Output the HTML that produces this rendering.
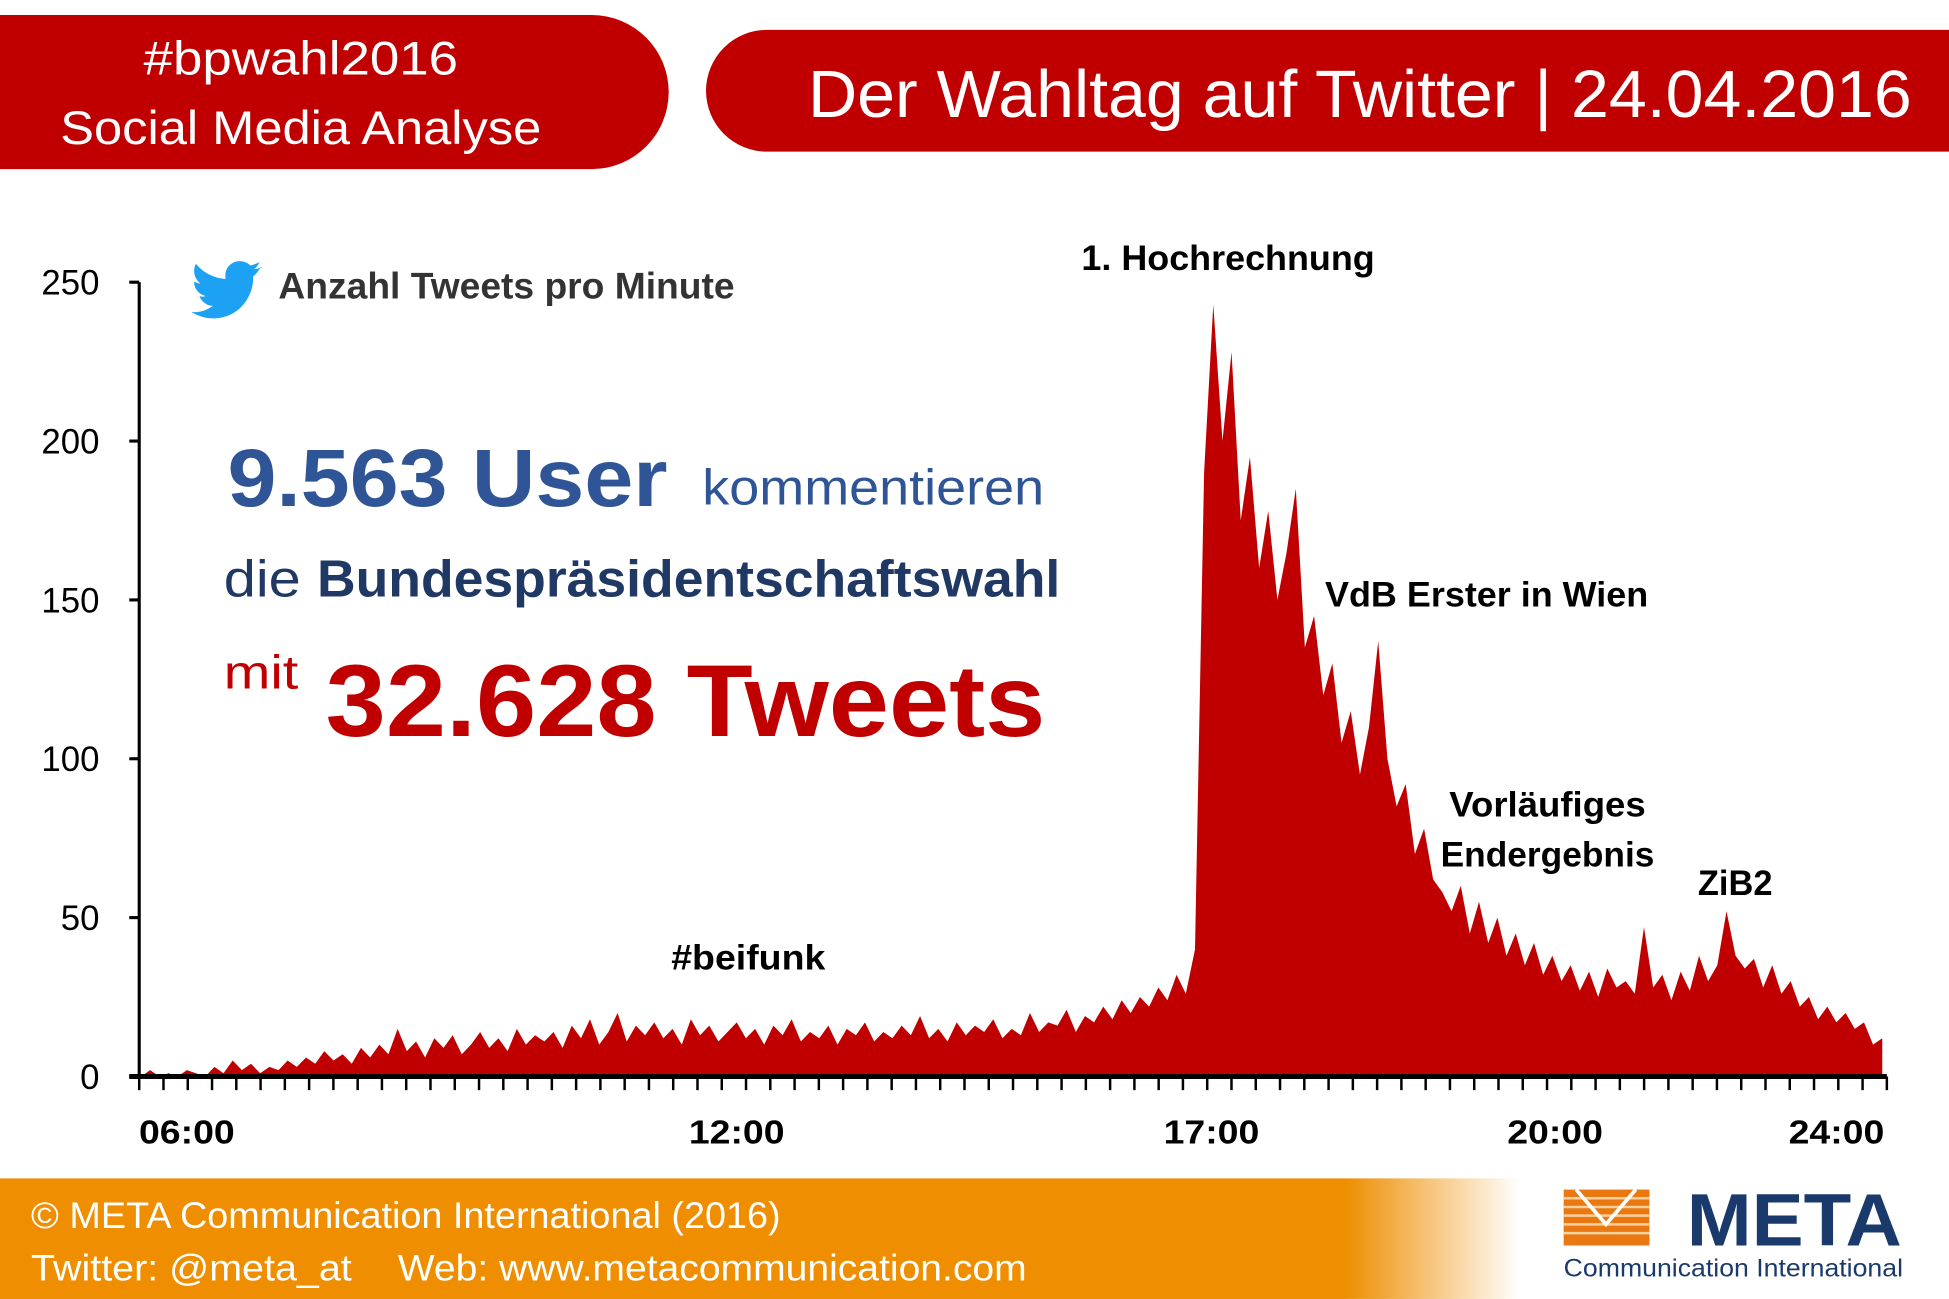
<!DOCTYPE html>
<html><head><meta charset="utf-8"><style>
html,body{margin:0;padding:0;background:#fff;}
svg{display:block;}
text{font-family:"Liberation Sans",sans-serif;}
</style></head><body>
<svg id="root" width="1949" height="1299" viewBox="0 0 1568 1045" xmlns="http://www.w3.org/2000/svg">
<defs>
<linearGradient id="fg" x1="0" x2="1" y1="0" y2="0">
<stop offset="0" stop-color="#ee8e00"/><stop offset="0.69" stop-color="#ee8e00"/><stop offset="0.78" stop-color="#ffffff"/><stop offset="1" stop-color="#ffffff"/>
</linearGradient>
</defs>
<path d="M0 12 H476 A62 62 0 0 1 476 136 H0 Z" fill="#c00000"/>
<text x="242" y="60" text-anchor="middle" fill="#fff" font-size="38" textLength="253" lengthAdjust="spacingAndGlyphs">#bpwahl2016</text>
<text x="242" y="116" text-anchor="middle" fill="#fff" font-size="38" textLength="387" lengthAdjust="spacingAndGlyphs">Social Media Analyse</text>
<path d="M617 24 H1568 V122 H617 A49 49 0 0 1 617 24 Z" fill="#c00000"/>
<text x="650" y="94" fill="#fff" font-size="54" textLength="888" lengthAdjust="spacingAndGlyphs">Der Wahltag auf Twitter | 24.04.2016</text>

<g id="chart"></g>

<g>
<path fill="#1da1f2" transform="translate(154,210) scale(0.72) translate(-130,-207)" d="M210 213 c-3 2 -7 3 -10 3 c3 -2 5 -5 6 -8 c-3 2 -7 3 -10 4 c-3 -3 -7 -5 -12 -5 c-9 0 -16 7 -16 16 c0 1 0 3 0 4 c-13 -1 -25 -7 -33 -17 c-1 2 -2 5 -2 8 c0 6 3 11 7 14 c-3 0 -5 -1 -7 -2 c0 8 5 14 13 16 c-2 1 -5 1 -7 0 c2 6 8 11 15 11 c-6 4 -12 7 -20 7 c-1 0 -3 0 -4 0 c7 4 15 7 24 7 c29 0 45 -24 45 -45 v-2 c3 -2 5 -5 7 -8 z"/>
<text x="224" y="240" fill="#333" font-size="30" font-weight="bold" textLength="367" lengthAdjust="spacingAndGlyphs">Anzahl Tweets pro Minute</text>
</g>

<g>
<text x="183" y="407" fill="#2f5597" font-size="66" font-weight="bold" textLength="354" lengthAdjust="spacingAndGlyphs">9.563 User</text>
<text x="565" y="406" fill="#2f5597" font-size="40" textLength="275" lengthAdjust="spacingAndGlyphs">kommentieren</text>
<text x="180" y="480" fill="#1f3864" font-size="42" textLength="62" lengthAdjust="spacingAndGlyphs">die</text>
<text x="255" y="480" fill="#1f3864" font-size="42" font-weight="bold" textLength="598" lengthAdjust="spacingAndGlyphs">Bundespräsidentschaftswahl</text>
<text x="180" y="554" fill="#c00000" font-size="38" textLength="60" lengthAdjust="spacingAndGlyphs">mit</text>
<text x="262" y="592" fill="#c00000" font-size="82" font-weight="bold" textLength="579" lengthAdjust="spacingAndGlyphs">32.628 Tweets</text>
</g>

<g font-weight="bold" font-size="28" fill="#000">
<text x="870" y="217" textLength="236" lengthAdjust="spacingAndGlyphs">1. Hochrechnung</text>
<text x="1066" y="488" textLength="260" lengthAdjust="spacingAndGlyphs">VdB Erster in Wien</text>
<text x="1166" y="657" textLength="158" lengthAdjust="spacingAndGlyphs">Vorläufiges</text>
<text x="1159" y="697" textLength="172" lengthAdjust="spacingAndGlyphs">Endergebnis</text>
<text x="1366" y="720" textLength="60" lengthAdjust="spacingAndGlyphs">ZiB2</text>
<text x="540" y="780" textLength="124" lengthAdjust="spacingAndGlyphs">#beifunk</text>
</g>

<rect x="0" y="948" width="1568" height="97" fill="url(#fg)"/>
<text x="25" y="988" fill="#fff" font-size="30" textLength="603" lengthAdjust="spacingAndGlyphs">© META Communication International (2016)</text>
<text x="25" y="1030" fill="#fff" font-size="30" textLength="258" lengthAdjust="spacingAndGlyphs">Twitter: @meta_at</text>
<text x="320" y="1030" fill="#fff" font-size="30" textLength="506" lengthAdjust="spacingAndGlyphs">Web: www.metacommunication.com</text>
<g>
<rect x="1258" y="957" width="69" height="45" fill="#e8780f"/>
<g stroke="#fbd0a0" stroke-width="2">
<line x1="1258" y1="964" x2="1327" y2="964"/><line x1="1258" y1="971" x2="1327" y2="971"/><line x1="1258" y1="978" x2="1327" y2="978"/><line x1="1258" y1="985" x2="1327" y2="985"/><line x1="1258" y1="992" x2="1327" y2="992"/>
</g>
<path d="M1268 957 L1292 985 L1316 957" fill="none" stroke="#fff" stroke-width="3"/>
<text x="1357" y="1002" fill="#1a3a6b" font-size="60" font-weight="bold" textLength="173" lengthAdjust="spacingAndGlyphs">META</text>
<text x="1258" y="1027" fill="#1a3a6b" font-size="20" textLength="273" lengthAdjust="spacingAndGlyphs">Communication International</text>
</g>
</svg>
<script>
// chart data: tweets per minute sampled every 6 minutes starting 05:30
const startMinute = 330;
const stepMinutes = 6;
const tweetValues = [
0,2,0,1,0,2,1,0,3,1,5,2,4,1,3,
2,5,3,6,4,8,5,7,4,9,
6,10,7,15,8,11,6,12,9,13,7,10,14,9,12,8,15,10,13,11,
14,9,16,12,18,10,14,20,11,16,13,17,12,15,10,18,13,16,11,14,
17,12,15,10,16,13,18,11,14,12,16,10,15,13,17,11,14,12,16,13,19,12,15,11,17,13,16,14,18,12,15,13,20,14,17,
16,21,14,19,17,22,18,24,20,25,22,28,24,32,26,
40,190,243,200,228,175,195,160,178,150,165,185,135,145,120,130,105,115,95,110,137,100,85,92,70,78,62,58,52,60,45,55,42,50,38,45,35,42,32,38,30,35,27,33,25,34,28,30,26,47,28,32,24,33,27,38,30,35,52,38,34,37,28,35,26,30,22,25,18,22,17,20,15,17,10,12
];
const yTickValues = [0,50,100,150,200,250];
const xTickLabels = ["06:00","12:00","17:00","20:00","24:00"];
// label anchor positions on the time axis (hours), as placed in the original chart
const xTickHours = [6,12,17.18,20.93,24];

const NS = "http://www.w3.org/2000/svg";
const g = document.getElementById("chart");
const X0 = 112, X1 = 1518, Y0 = 866, Y1 = 227;
const hStart = 5.48, hEnd = 24.55;
function xScale(min){ return X0 + (min/60 - hStart) / (hEnd - hStart) * (X1 - X0); }
function yScale(v){ return Y0 - v / 250 * (Y0 - Y1); }
function mk(tag, attrs){ const e = document.createElementNS(NS, tag); for (const k in attrs) e.setAttribute(k, attrs[k]); g.appendChild(e); return e; }

let d = "M" + xScale(startMinute) + " " + Y0;
tweetValues.forEach((v, i) => { d += " L" + xScale(startMinute + i*stepMinutes).toFixed(1) + " " + yScale(v).toFixed(1); });
d += " L" + xScale(startMinute + (tweetValues.length-1)*stepMinutes).toFixed(1) + " " + Y0 + " Z";
const area = mk("path", {d: d, fill: "#c00000"});



const yAxis = mk("line", {x1: X0, y1: Y1, x2: X0, y2: Y0, stroke: "#000", "stroke-width": 2.5});


yTickValues.forEach(v => {
  const t = mk("line", {x1: X0-8, y1: yScale(v), x2: X0, y2: yScale(v), stroke: "#000", "stroke-width": 2.5});
  
  
  const l = mk("text", {x: 80, y: yScale(v)+10, "text-anchor": "end", "font-size": 28, fill: "#000"});
  l.textContent = String(v);
  
  
});

const xAxis = mk("line", {x1: X0-8, y1: Y0, x2: X1, y2: Y0, stroke: "#000", "stroke-width": 4});


const nMinor = 72;
for (let i = 0; i <= nMinor; i++) {
  const x = X0 + i * (X1 - X0) / nMinor;
  const t = mk("line", {x1: x, y1: Y0, x2: x, y2: Y0+11, stroke: "#000", "stroke-width": 2});
  
  
}
xTickLabels.forEach((lab, i) => {
  const l = mk("text", {x: xScale(xTickHours[i]*60), y: 920, "text-anchor": "middle", "font-size": 27, "font-weight": "bold", fill: "#000", textLength: 77, lengthAdjust: "spacingAndGlyphs"});
  l.textContent = lab;
  
  
});
</script>
</body></html>
